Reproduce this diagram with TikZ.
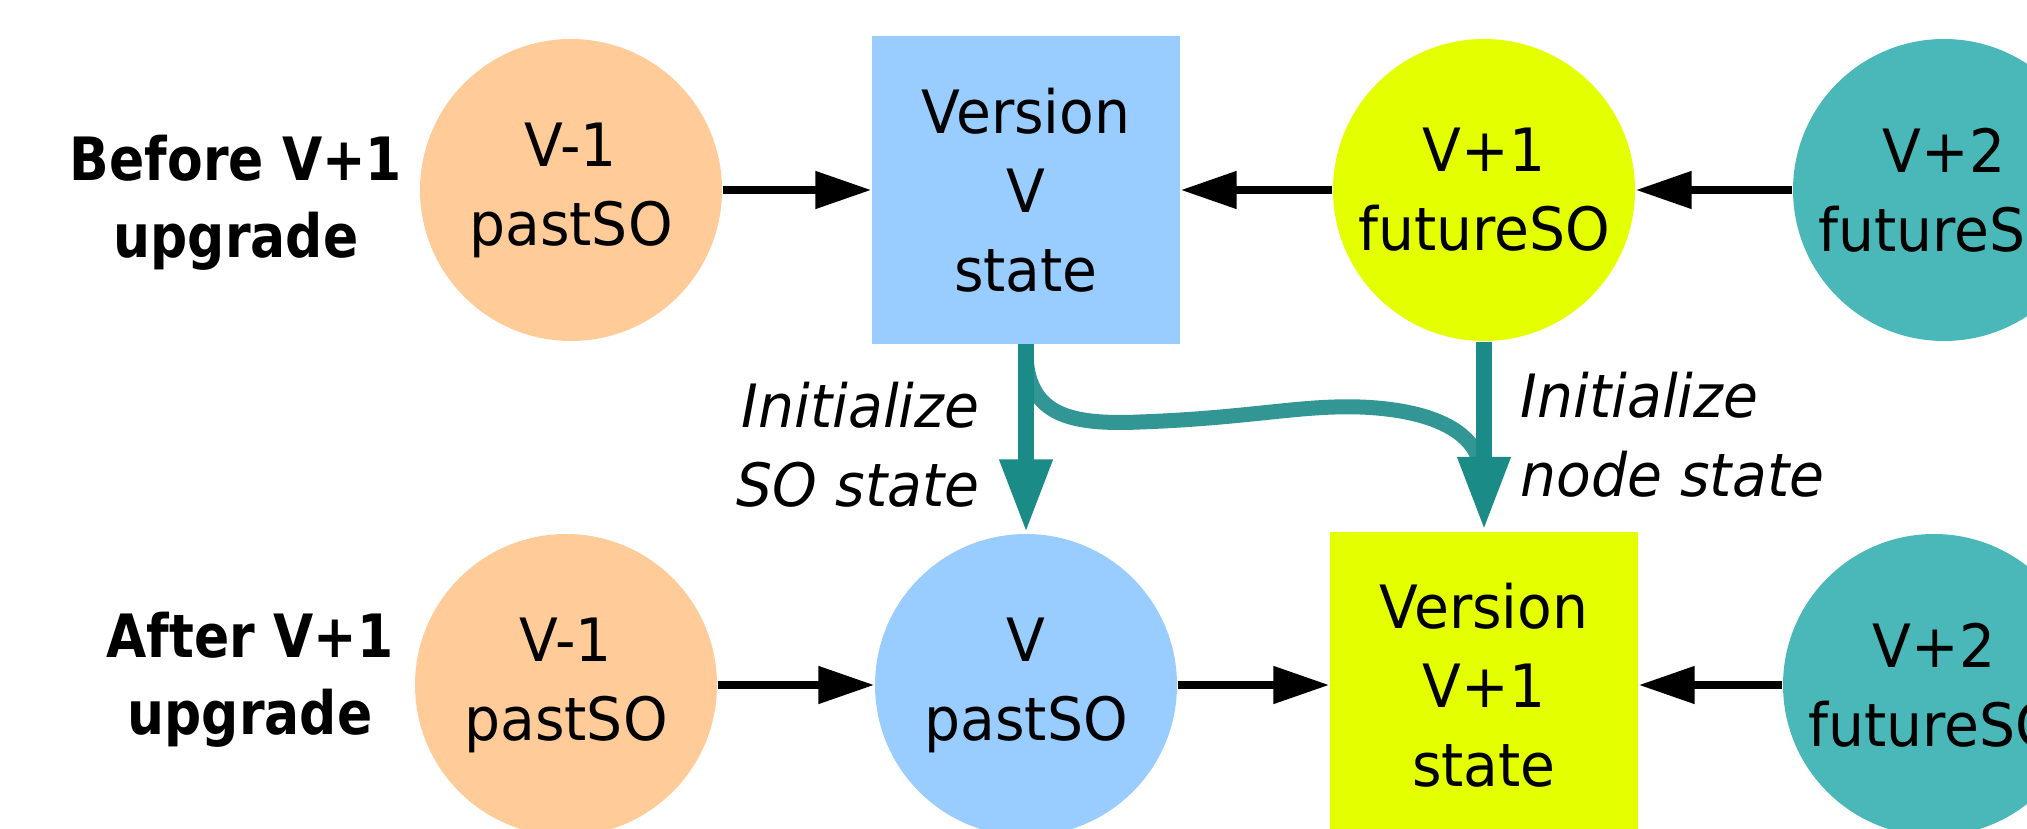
\documentclass[tikz,border=0pt]{standalone}
\usepackage{fontspec}
\setmainfont{DejaVu Sans}[FakeStretch=0.95]
\newfontfamily\sidefont{DejaVu Sans}[FakeStretch=0.87]
\usetikzlibrary{arrows.meta}
\definecolor{pastcol}{HTML}{FFCC99}
\definecolor{curcol}{HTML}{99CCFF}
\definecolor{nextcol}{HTML}{E4FF00}
\definecolor{farcol}{HTML}{4AB8B8}
\definecolor{initcol}{HTML}{1B8B88}
\newcommand{\basefont}{\fontsize{17}{22.5}\selectfont}

\begin{document}
\begin{tikzpicture}[
    every node/.style={font=\basefont},
    so/.style={circle,minimum size=3.02cm,inner sep=0pt,align=center},
    st/.style={rectangle,minimum width=3.08cm,minimum height=3.07cm,inner sep=0pt,align=center},
    flow/.style={-{Triangle[length=0.56cm,width=0.36cm]},line width=0.08cm},
    init/.style={-{Triangle[length=0.74cm,width=0.49cm]},line width=0.16cm,color=initcol},
    side/.style={font=\sidefont\bfseries\fontsize{17}{22}\selectfont,align=center,inner sep=0pt},
    note/.style={font=\basefont\itshape,inner sep=0pt}
  ]
    \useasboundingbox (0,0) rectangle (20.27,8.28);
    \clip (0,0) rectangle (20.27,8.28);
    % before the upgrade
    \node [so,fill=pastcol] (pastT) at (5.71,6.38) {V-1\\pastSO};
    \node [st,fill=curcol] (stateT) at (10.26,6.38) {Version\\V\\state};
    \node [so,fill=nextcol] (futT) at (14.84,6.38) {V+1\\futureSO};
    \node [so,fill=farcol] (nextT) at (19.44,6.38) {V+2\\futureSO};
    % after the upgrade
    \node [so,fill=pastcol] (pastB) at (5.66,1.43) {V-1\\pastSO};
    \node [so,fill=curcol] (verB) at (10.26,1.43) {V\\pastSO};
    \node [st,fill=nextcol] (stateB) at (14.84,1.43) {Version\\V+1\\state};
    \node [so,fill=farcol] (nextB) at (19.34,1.43) {V+2\\futureSO};
    \node [side] (before) at (2.36,6.25) {Before V+1\\upgrade};
    \node [side] (after) at (2.50,1.48) {After V+1\\upgrade};
    \node [note,anchor=east,align=right] (soinit) at (9.80,3.83) {Initialize\\SO state};
    \node [note,anchor=west,align=left] (nodeinit) at (15.20,3.93) {Initialize\\node state};
    \draw[flow] (pastT) -- (stateT);
    \draw[flow] (futT) -- (stateT);
    \draw[flow] (nextT) -- (futT);
    \draw[flow] (pastB) -- (verB);
    \draw[flow] (verB) -- (stateB);
    \draw[flow] (nextB) -- (stateB);
    \coordinate (fork) at (10.26,4.70);
    \coordinate (join) at (14.80,3.62);
    \draw[line width=0.15cm,color=initcol!90!white] (fork) .. controls (10.30,4.13) and (10.70,4.03) .. (11.40,4.06)
      .. controls (12.50,4.10) and (13.00,4.23) .. (13.60,4.21)
      .. controls (14.40,4.18) and (14.76,3.92) .. (join);
    \draw[init] (stateT) -- (verB);
    \draw[init] (futT) -- (stateB);
  \end{tikzpicture}
\end{document}
